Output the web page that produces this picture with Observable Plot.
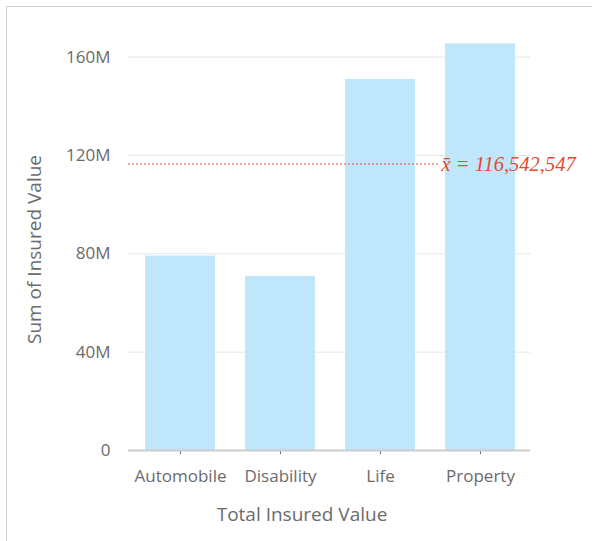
<!DOCTYPE html>
<html>
<head>
<meta charset="utf-8">
<script src="https://cdn.jsdelivr.net/npm/d3@7"></script>
<script src="https://cdn.jsdelivr.net/npm/@observablehq/plot@0.6"></script>
<style>
  html, body { margin: 0; padding: 0; background: #fff; }
  #wrap { position: relative; width: 592px; height: 541px; overflow: hidden; }
  #box { position: absolute; left: 6px; top: 6px; width: 700px; height: 700px; border-left: 1.5px solid #cfcfcf; border-top: 1.5px solid #cfcfcf; box-sizing: border-box; }
  #chart { position: absolute; left: 0; top: 0; }
</style>
</head>
<body>
<div id="wrap"><div id="box"></div><div id="chart"></div></div>
<script>
const categories = ["Automobile", "Disability", "Life", "Property"];
const values = [79.1e6, 70.8e6, 150.9e6, 165.4e6];
const meanValue = 116542547;
const meanLabel = "x\u0304 = 116,542,547";
const yTicks = [0, 40e6, 80e6, 120e6, 160e6];
const yTickLabels = ["0", "40M", "80M", "120M", "160M"];
const xTitle = "Total Insured Value";
const yTitle = "Sum of Insured Value";

const data = categories.map((c, i) => ({category: c, value: values[i]}));
const font = "'Open Sans', sans-serif";

const chart = Plot.plot({
  width: 592,
  height: 541,
  marginLeft: 130,
  marginRight: 62,
  marginTop: 32,
  marginBottom: 91,
  style: {fontFamily: font, fontSize: "17px", color: "#6b6b6b", background: "transparent"},
  x: {
    domain: categories,
    paddingInner: 0.3,
    paddingOuter: 0.15,
    label: null,
    tickSize: 4,
    tickPadding: 15
  },
  y: {
    domain: [0, 170e6],
    ticks: yTicks,
    tickFormat: d => yTickLabels[yTicks.indexOf(d)],
    tickSize: 0,
    tickPadding: 20,
    label: null
  },
  marks: [
    Plot.ruleY(yTicks.slice(1), {stroke: "#e6e6e6", strokeWidth: 1, insetLeft: -2}),
    Plot.barY(data, {x: "category", y: "value", fill: "#c0e6fb"}),
    Plot.ruleY([0], {stroke: "#cccccc", strokeWidth: 2, insetLeft: -2}),
    Plot.ruleY([meanValue], {stroke: "#e8502f", strokeWidth: 1, strokeDasharray: "2,2", insetLeft: -2, insetRight: 90}),
    Plot.text([meanLabel], {y: [meanValue], frameAnchor: "right", dx: -89, textAnchor: "start", text: d => d,
      fill: "#e34a2c", fontFamily: "'Liberation Serif', 'Times New Roman', serif", fontStyle: "italic", fontSize: 20.5}),
    Plot.text([xTitle], {frameAnchor: "bottom", dx: -28.5, dy: 64, textAnchor: "middle", lineAnchor: "middle", text: d => d,
      fill: "#6b6b6b", fontSize: 19}),
    Plot.text([yTitle], {frameAnchor: "left", dx: -96, dy: 8, rotate: -90, textAnchor: "middle", lineAnchor: "middle", text: d => d,
      fill: "#6b6b6b", fontSize: 19})
  ]
});
document.getElementById("chart").appendChild(chart);
</script>
</body>
</html>
